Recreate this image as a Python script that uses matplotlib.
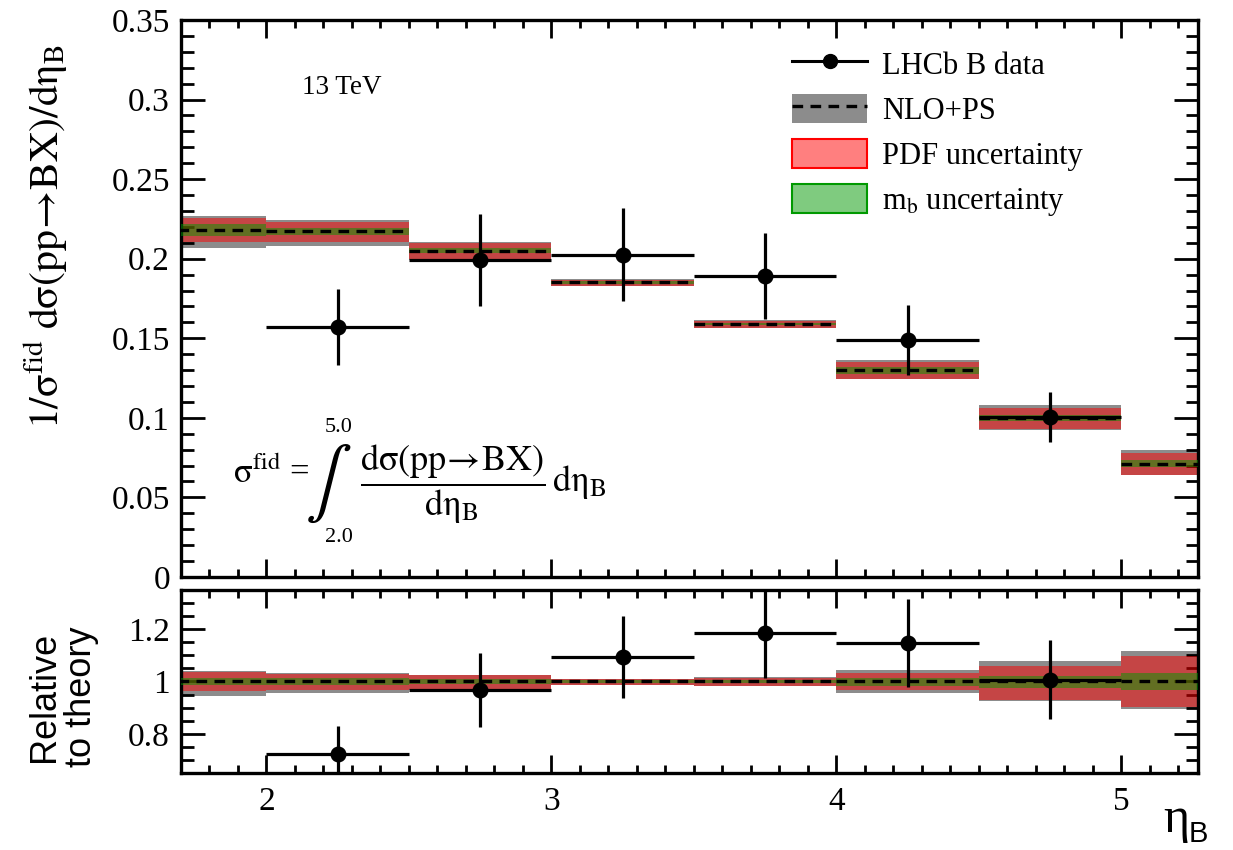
import numpy as np
import matplotlib
matplotlib.use("Agg")
import matplotlib.pyplot as plt
from matplotlib.lines import Line2D
from matplotlib.patches import Patch
from matplotlib.ticker import FixedLocator, FixedFormatter, MultipleLocator

plt.rcParams['font.family'] = ['Liberation Serif', 'DejaVu Serif']
plt.rcParams['mathtext.fontset'] = 'stix'

# theory bins (eta_B)
bin_lo = [1.5, 2.0, 2.5, 3.0, 3.5, 4.0, 4.5, 5.0]
bin_w = 0.5

# NLO+PS central value and bands, top panel
nlo_c = [0.2180, 0.2171, 0.2051, 0.1851, 0.1589, 0.1299, 0.0999, 0.0713]
nlo_lo = [0.2068, 0.2078, 0.1994, 0.1826, 0.1564, 0.1242, 0.0926, 0.0638]
nlo_hi = [0.2270, 0.2246, 0.2102, 0.1870, 0.1617, 0.1361, 0.1083, 0.0797]
pdf_lo = [0.2104, 0.2104, 0.1996, 0.1828, 0.1566, 0.1247, 0.0930, 0.0640]
pdf_hi = [0.2257, 0.2233, 0.2100, 0.1868, 0.1606, 0.1351, 0.1062, 0.0780]
mb_lo = [0.2144, 0.2147, 0.2035, 0.1843, 0.1582, 0.1278, 0.0979, 0.0692]
mb_hi = [0.2215, 0.2194, 0.2068, 0.1858, 0.1596, 0.1319, 0.1020, 0.0738]

# ratio panel bands
r_nlo_lo = [0.945, 0.956, 0.969, 0.985, 0.982, 0.956, 0.926, 0.894]
r_nlo_hi = [1.039, 1.034, 1.024, 1.009, 1.018, 1.045, 1.080, 1.118]
r_pdf_lo = [0.963, 0.967, 0.970, 0.986, 0.983, 0.967, 0.931, 0.901]
r_pdf_hi = [1.036, 1.027, 1.023, 1.008, 1.015, 1.032, 1.061, 1.097]
r_mb_lo = [0.986, 0.986, 0.990, 0.995, 0.993, 0.983, 0.977, 0.967]
r_mb_hi = [1.015, 1.015, 1.011, 1.005, 1.007, 1.015, 1.020, 1.032]
r_c = [1.0, 1.0, 1.0, 1.0, 1.0, 1.0, 1.0, 1.0]

# LHCb data
data_x = [2.25, 2.75, 3.25, 3.75, 4.25, 4.75]
data_xerr = 0.25
data_y = [0.157, 0.199, 0.2026, 0.189, 0.149, 0.1006]
data_yerr = [0.024, 0.029, 0.029, 0.027, 0.022, 0.0155]
ratio_y = [0.723, 0.967, 1.093, 1.185, 1.146, 1.007]
ratio_err = [0.105, 0.142, 0.158, 0.170, 0.168, 0.152]

top_ticks = [0, 0.05, 0.1, 0.15, 0.2, 0.25, 0.3, 0.35]
top_labels = ['0', '0.05', '0.1', '0.15', '0.2', '0.25', '0.3', '0.35']
bot_ticks = [0.8, 1.0, 1.2]
bot_labels = ['0.8', '1', '1.2']
x_ticks = [2, 3, 4, 5]
x_labels = ['2', '3', '4', '5']

grey = '#8c8c8c'
red = (1, 0, 0, 0.5)
green = (0, 0.6, 0, 0.5)

fig = plt.figure(figsize=(12.33, 8.5), dpi=100)
ax1 = fig.add_axes([0.1468, 0.3212, 0.8249, 0.6553])
ax2 = fig.add_axes([0.1468, 0.0906, 0.8249, 0.2153])


def draw_theory(ax, c, glo, ghi, plo, phi, mlo, mhi):
    glo, ghi = np.array(glo), np.array(ghi)
    plo, phi = np.array(plo), np.array(phi)
    mlo, mhi = np.array(mlo), np.array(mhi)
    ax.bar(bin_lo, ghi - glo, bottom=glo, width=bin_w, align='edge', color=grey, lw=0, zorder=1)
    ax.bar(bin_lo, phi - plo, bottom=plo, width=bin_w, align='edge', color=red, lw=0, zorder=2)
    ax.bar(bin_lo, mhi - mlo, bottom=mlo, width=bin_w, align='edge', color=green, lw=0, zorder=3)
    ax.hlines(c, bin_lo, np.array(bin_lo) + bin_w, colors='k', lw=2.4,
              linestyles=(0, (3.2, 2.2)), zorder=4)


draw_theory(ax1, nlo_c, nlo_lo, nlo_hi, pdf_lo, pdf_hi, mb_lo, mb_hi)
draw_theory(ax2, r_c, r_nlo_lo, r_nlo_hi, r_pdf_lo, r_pdf_hi, r_mb_lo, r_mb_hi)

ax1.errorbar(data_x, data_y, xerr=data_xerr, yerr=data_yerr, fmt='o', color='k',
             ms=10.5, lw=2.3, capsize=0, zorder=5)
ax2.errorbar(data_x, ratio_y, xerr=data_xerr, yerr=ratio_err, fmt='o', color='k',
             ms=10.5, lw=2.3, capsize=0, zorder=5)

for ax in (ax1, ax2):
    ax.set_xlim(1.7, 5.27)
    ax.xaxis.set_major_locator(FixedLocator(x_ticks))
    ax.xaxis.set_minor_locator(MultipleLocator(0.1))
    ax.tick_params(which='both', direction='in', top=True, right=True, width=2.0,
                   labelsize=24)
    ax.tick_params(axis='x', which='major', length=13, pad=10)
    ax.tick_params(axis='x', which='minor', length=6)
    ax.tick_params(axis='y', which='major', length=17, pad=8)
    ax.tick_params(axis='y', which='minor', length=9)
    for s in ax.spines.values():
        s.set_linewidth(2.4)

ax1.set_ylim(0, 0.35)
ax1.yaxis.set_major_locator(FixedLocator(top_ticks))
ax1.yaxis.set_major_formatter(FixedFormatter(top_labels))
ax1.yaxis.set_minor_locator(MultipleLocator(0.01))
ax1.tick_params(labelbottom=False)

ax2.set_ylim(0.65, 1.35)
ax2.yaxis.set_major_locator(FixedLocator(bot_ticks))
ax2.yaxis.set_major_formatter(FixedFormatter(bot_labels))
ax2.yaxis.set_minor_locator(MultipleLocator(0.05))
ax2.xaxis.set_major_formatter(FixedFormatter(x_labels))

# axis titles
fig.text(0.037, 1 - 236 / 850, r'$\mathrm{1/\sigma^{fid}\ d\sigma(pp\!\rightarrow\!BX)/d\eta_{B}}$',
         rotation=90, ha='center', va='center', fontsize=30)
fig.text(0.051, 1 - 697 / 850, 'Relative\nto theory', rotation=90, ha='center', va='center',
         fontsize=26, family='Liberation Sans', linespacing=1.05)
fig.text(1163 / 1233, 1 - 832 / 850, 'η', ha='left', va='baseline', fontsize=36)
fig.text(1189 / 1233, 1 - 842 / 850, 'B', ha='left', va='baseline', fontsize=21,
         family='Liberation Sans')

# annotations
ax1.text(0.119, 0.878, '13 TeV', transform=ax1.transAxes, ha='left', va='center', fontsize=19.5)


def axpos(px, py):
    return (px - 181) / 1017, (577 - py) / 557


tx, ty = axpos(233, 474)
ax1.text(tx, ty, r'$\mathrm{\sigma^{fid}}$ =', transform=ax1.transAxes, ha='left', va='center', fontsize=25)
tx, ty = axpos(328, 484)
ax1.text(tx, ty, r'$\int$', transform=ax1.transAxes, ha='center', va='center', fontsize=50)
tx, ty = axpos(339, 428)
ax1.text(tx, ty, '5.0', transform=ax1.transAxes, ha='center', va='center', fontsize=16)
tx, ty = axpos(339, 538)
ax1.text(tx, ty, '2.0', transform=ax1.transAxes, ha='center', va='center', fontsize=16)
tx, ty = axpos(360, 484)
ax1.text(tx, ty, r'$\dfrac{\mathrm{d\sigma(pp\!\rightarrow\!BX)}}{\mathrm{d\eta_{B}}}\,\mathrm{d\eta_{B}}$',
         transform=ax1.transAxes, ha='left', va='center', fontsize=26)

# legend
handles = [
    Line2D([], [], color='k', marker='o', ms=10, lw=2.2),
    (Patch(facecolor=grey, edgecolor='none'), Line2D([], [], color='k', lw=2.4, ls=(0, (3.2, 2.2)))),
    Patch(facecolor=red, edgecolor='red', lw=1.5),
    Patch(facecolor=green, edgecolor=(0, 0.6, 0), lw=1.5),
]
labels = ['LHCb B data', 'NLO+PS', 'PDF uncertainty', r'm$_{\mathrm{b}}$ uncertainty']
ax1.legend(handles, labels, loc='upper left', bbox_to_anchor=(0.601, 0.948), frameon=False,
           fontsize=22, borderpad=0, borderaxespad=0, handlelength=2.45, handleheight=1.08,
           handletextpad=0.5, labelspacing=0.43)

fig.savefig('out.png', dpi=100)
